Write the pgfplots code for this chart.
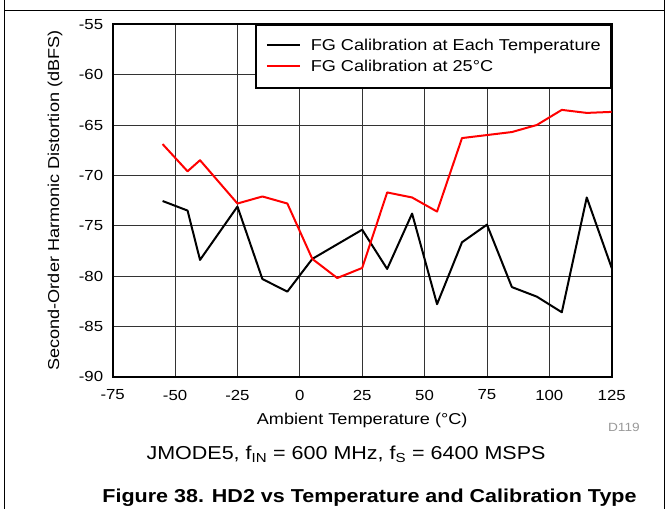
\documentclass[border=0pt]{standalone}
\usepackage{fontspec}
\setmainfont[FakeStretch=1.15]{Liberation Sans}
\usepackage{pgfplots}
\pgfplotsset{compat=1.18}
\begin{document}
\begin{tikzpicture}
\useasboundingbox (0,0) rectangle (669bp,509bp);
\begin{axis}[
  at={(112.7bp,132.3bp)}, anchor=south west,
  scale only axis, width=499bp, height=352.4bp,
  xmin=-75, xmax=125, ymin=-90, ymax=-55,
  xtick={-75,-50,...,125}, ytick={-90,-85,...,-55},
  grid=major,
  major grid style={black!80, line width=0.9bp},
  major tick length=0pt,
  axis line style={line width=2.2bp},
  /pgf/number format/assume math mode=true,
  tick label style={font=\fontsize{14.6bp}{16bp}\selectfont, inner sep=0pt},
  xticklabel style={anchor=north, yshift=-13bp},
  yticklabel style={anchor=east, xshift=-9.4bp},
  xlabel={Ambient Temperature (°C)},
  ylabel={Second-Order Harmonic Distortion (dBFS)},
  label style={font=\fontsize{15.75bp}{18bp}\selectfont, inner sep=0pt},
  xlabel style={at={(axis description cs:0.5,0)}, anchor=base, yshift=-48.3bp},
  ylabel style={at={(axis description cs:0,0.5)}, anchor=center, rotate=0, yshift=57.7bp},
  legend cell align=left,
  legend image code/.code={\draw[#1] (0bp,1.6bp) -- (33bp,1.6bp);},
  legend style={at={(rel axis cs:1,1)}, anchor=north east, draw=black, line width=2bp, fill=white,
    inner xsep=10bp, inner ysep=10.5bp, row sep=0pt, column sep=10bp,
    font=\fontsize{15.75bp}{18bp}\selectfont,
    nodes={inner sep=0pt, text height=12bp, text depth=4bp, inner ysep=2.5bp}},
]
\addplot[black, line width=2bp, line join=round] coordinates {
(-55,-72.55) (-45,-73.5) (-40,-78.4) (-25,-73.1) (-15,-80.3) (-5,-81.55) (5,-78.3) (15,-76.85)
(25,-75.4) (35,-79.3) (45,-73.8) (55,-82.8) (65,-76.65) (75,-74.9) (85,-81.1) (95,-82.05)
(105,-83.6) (115,-72.2) (125,-79.2)};
\addlegendentry{FG Calibration at Each Temperature}
\addplot[red, line width=2bp, line join=round] coordinates {
(-55,-66.9) (-45,-69.6) (-40,-68.5) (-25,-72.8) (-15,-72.1) (-5,-72.8) (5,-78.3) (15,-80.2)
(25,-79.2) (35,-71.7) (45,-72.2) (55,-73.6) (65,-66.3) (75,-66.0) (85,-65.7) (95,-65.0)
(105,-63.5) (115,-63.8) (125,-63.7)};
\addlegendentry{FG Calibration at 25°C}
\end{axis}
\draw[line width=1.3bp] (4.5bp,0) -- (4.5bp,509bp);
\draw[line width=1.3bp] (664.5bp,0) -- (664.5bp,509bp);
\draw[line width=1.3bp] (4.5bp,498.5bp) -- (664.5bp,498.5bp);
\node[anchor=east, inner sep=0pt, text=black!40, font=\fontsize{11.9bp}{13bp}\selectfont] at (640bp,81.5bp) {D119};
\node[anchor=base, inner sep=0pt, font=\fontsize{18.7bp}{21bp}\selectfont] at (346bp,49.7bp) {JMODE5, f\textsubscript{IN} = 600 MHz, f\textsubscript{S} = 6400 MSPS};
\node[anchor=base, inner sep=0pt, font=\fontsize{18.7bp}{21bp}\selectfont\bfseries] at (369.5bp,6.7bp) {Figure 38. HD2 vs Temperature and Calibration Type};
\end{tikzpicture}
\end{document}
